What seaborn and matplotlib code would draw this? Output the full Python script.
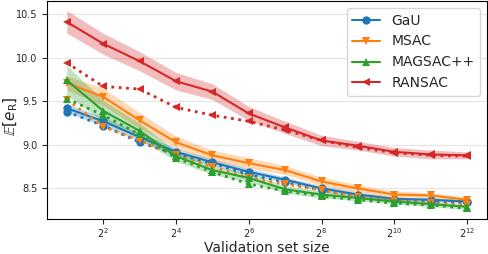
import matplotlib
matplotlib.use("Agg")
import matplotlib.pyplot as plt
import seaborn as sns

sns.set_style("ticks")

# Validation set sizes
sizes = [2, 4, 8, 16, 32, 64, 128, 256, 512, 1024, 2048, 4096]
xticks = [4, 16, 64, 256, 1024, 4096]
xticklabels = ["$2^{2}$", "$2^{4}$", "$2^{6}$", "$2^{8}$", "$2^{10}$", "$2^{12}$"]

methods = ["GaU", "MSAC", "MAGSAC++", "RANSAC"]

# solid lines (mean) with shaded band
gau_mean = [9.42, 9.27, 9.09, 8.92, 8.80, 8.69, 8.60, 8.50, 8.43, 8.38, 8.37, 8.35]
msac_mean = [9.71, 9.55, 9.28, 9.03, 8.88, 8.79, 8.71, 8.58, 8.50, 8.43, 8.42, 8.37]
magsac_mean = [9.74, 9.39, 9.16, 8.87, 8.71, 8.62, 8.49, 8.43, 8.39, 8.35, 8.32, 8.29]
ransac_mean = [10.41, 10.16, 9.96, 9.73, 9.61, 9.36, 9.20, 9.05, 8.99, 8.92, 8.89, 8.88]

# band half widths
gau_err = [0.05, 0.05, 0.05, 0.04, 0.04, 0.04, 0.03, 0.03, 0.03, 0.02, 0.02, 0.02]
msac_err = [0.08, 0.10, 0.09, 0.07, 0.06, 0.06, 0.05, 0.05, 0.04, 0.04, 0.03, 0.03]
magsac_err = [0.17, 0.12, 0.09, 0.06, 0.05, 0.05, 0.04, 0.04, 0.03, 0.03, 0.03, 0.03]
ransac_err = [0.13, 0.12, 0.11, 0.10, 0.09, 0.08, 0.07, 0.06, 0.05, 0.05, 0.05, 0.04]

# dotted lines
gau_dot = [9.38, 9.22, 9.03, 8.89, 8.79, 8.66, 8.57, 8.48, 8.41, 8.37, 8.35, 8.34]
msac_dot = [9.52, 9.21, 9.05, 8.88, 8.75, 8.62, 8.55, 8.48, 8.40, 8.36, 8.33, 8.31]
magsac_dot = [9.53, 9.34, 9.12, 8.85, 8.69, 8.55, 8.47, 8.41, 8.37, 8.33, 8.31, 8.27]
ransac_dot = [9.94, 9.67, 9.64, 9.43, 9.34, 9.27, 9.17, 9.05, 8.97, 8.91, 8.88, 8.87]

means = [gau_mean, msac_mean, magsac_mean, ransac_mean]
errs = [gau_err, msac_err, magsac_err, ransac_err]
dots = [gau_dot, msac_dot, magsac_dot, ransac_dot]
colors = ["#1f77b4", "#ff7f0e", "#2ca02c", "#d62728"]
markers = ["o", "v", "^", "<"]

fig = plt.figure(figsize=(4.88, 2.54), dpi=100)
ax = fig.add_axes([0.096, 0.138, 0.902, 0.858])

for name, m, e, d, c, mk in zip(methods, means, errs, dots, colors, markers):
    lo = [a - b for a, b in zip(m, e)]
    hi = [a + b for a, b in zip(m, e)]
    ax.fill_between(sizes, lo, hi, color=c, alpha=0.3, linewidth=0)
    sns.lineplot(x=sizes, y=m, color=c, marker=mk, markersize=6, linewidth=1.5,
                 markeredgewidth=0, label=name, ax=ax)
    sns.lineplot(x=sizes, y=d, color=c, marker=mk, markersize=6, linewidth=2,
                 linestyle=":", markeredgewidth=0, ax=ax)

ax.set_xscale("log", base=2)
ax.set_xticks(xticks)
ax.set_xticklabels(xticklabels, fontsize=7)
ax.minorticks_off()
ax.set_xlim(2 ** 0.45, 2 ** 12.55)
ax.set_ylim(8.15, 10.65)
ax.set_yticks([8.5, 9.0, 9.5, 10.0, 10.5])
ax.tick_params(axis="y", labelsize=7, length=3.5, pad=3)
ax.tick_params(axis="x", length=3.5, pad=1.5)
ax.grid(axis="y", color="#e5e5e5", linewidth=0.8)
ax.set_axisbelow(True)
for s in ax.spines.values():
    s.set_color("black")
    s.set_linewidth(0.8)

ax.set_xlabel("Validation set size", fontsize=10, labelpad=1)
ax.set_ylabel(r"$\mathbb{E}[e_\mathrm{R}]$", fontsize=11)
ax.yaxis.set_label_coords(-0.06, 0.47)
ax.legend(loc="upper right", fontsize=10)

fig.savefig("out.png", dpi=100)
